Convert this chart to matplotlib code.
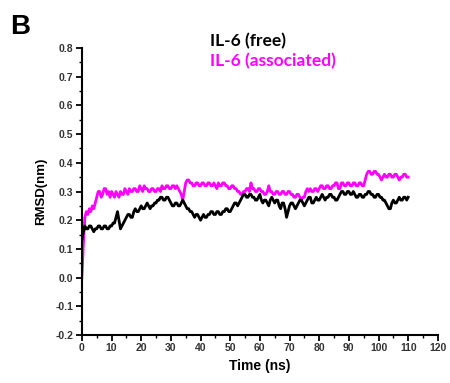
import numpy as np
import matplotlib
matplotlib.use("Agg")
import matplotlib.pyplot as plt
from matplotlib.ticker import MultipleLocator

# time axis (ns), one sample every 0.5 ns
time_ns = np.arange(0, 110.5, 0.5)

rmsd_associated = [
    0.00, 0.12, 0.21, 0.23, 0.22, 0.24, 0.23, 0.25, 0.24, 0.26,
    0.28, 0.30, 0.30, 0.28, 0.29, 0.31, 0.31, 0.29, 0.30, 0.28,
    0.30, 0.29, 0.28, 0.30, 0.29, 0.28, 0.30, 0.29, 0.29, 0.31,
    0.30, 0.29, 0.31, 0.30, 0.30, 0.31, 0.31, 0.30, 0.30, 0.32,
    0.31, 0.30, 0.32, 0.31, 0.31, 0.30, 0.30, 0.31, 0.31, 0.30,
    0.30, 0.31, 0.31, 0.30, 0.32, 0.31, 0.31, 0.32, 0.32, 0.31,
    0.31, 0.32, 0.32, 0.31, 0.32, 0.31, 0.30, 0.29, 0.27, 0.30,
    0.33, 0.34, 0.34, 0.33, 0.33, 0.32, 0.32, 0.33, 0.33, 0.32,
    0.32, 0.33, 0.33, 0.32, 0.32, 0.33, 0.33, 0.32, 0.32, 0.33,
    0.32, 0.31, 0.33, 0.32, 0.32, 0.33, 0.33, 0.32, 0.32, 0.31,
    0.31, 0.32, 0.32, 0.31, 0.31, 0.30, 0.30, 0.29, 0.29, 0.30,
    0.30, 0.31, 0.31, 0.30, 0.33, 0.31, 0.31, 0.30, 0.30, 0.31,
    0.31, 0.30, 0.30, 0.29, 0.29, 0.30, 0.32, 0.30, 0.30, 0.29,
    0.29, 0.30, 0.30, 0.29, 0.29, 0.30, 0.30, 0.29, 0.29, 0.30,
    0.30, 0.29, 0.29, 0.28, 0.28, 0.29, 0.29, 0.28, 0.27, 0.28,
    0.28, 0.30, 0.31, 0.30, 0.31, 0.30, 0.30, 0.31, 0.31, 0.30,
    0.31, 0.32, 0.32, 0.31, 0.31, 0.32, 0.32, 0.31, 0.31, 0.32,
    0.32, 0.33, 0.33, 0.31, 0.31, 0.33, 0.33, 0.32, 0.32, 0.33,
    0.33, 0.32, 0.32, 0.33, 0.33, 0.32, 0.32, 0.33, 0.33, 0.32,
    0.32, 0.34, 0.36, 0.37, 0.37, 0.36, 0.36, 0.37, 0.37, 0.36,
    0.36, 0.35, 0.34, 0.35, 0.36, 0.35, 0.35, 0.36, 0.36, 0.35,
    0.35, 0.36, 0.36, 0.35, 0.34, 0.35, 0.35, 0.36, 0.36, 0.35,
    0.35,
]

rmsd_free = [
    0.13, 0.16, 0.18, 0.17, 0.17, 0.18, 0.18, 0.17, 0.16, 0.17,
    0.17, 0.18, 0.18, 0.17, 0.17, 0.18, 0.18, 0.17, 0.17, 0.18,
    0.18, 0.19, 0.19, 0.21, 0.23, 0.20, 0.17, 0.18, 0.19, 0.20,
    0.21, 0.22, 0.22, 0.21, 0.21, 0.23, 0.24, 0.23, 0.23, 0.24,
    0.25, 0.24, 0.24, 0.25, 0.26, 0.25, 0.24, 0.25, 0.25, 0.26,
    0.26, 0.27, 0.27, 0.28, 0.28, 0.27, 0.27, 0.28, 0.28, 0.27,
    0.26, 0.25, 0.25, 0.26, 0.26, 0.25, 0.25, 0.26, 0.27, 0.26,
    0.25, 0.24, 0.24, 0.23, 0.23, 0.22, 0.21, 0.22, 0.22, 0.21,
    0.20, 0.21, 0.22, 0.21, 0.21, 0.22, 0.22, 0.23, 0.23, 0.22,
    0.22, 0.23, 0.23, 0.22, 0.22, 0.23, 0.23, 0.24, 0.24, 0.23,
    0.23, 0.24, 0.25, 0.26, 0.26, 0.25, 0.26, 0.27, 0.28, 0.29,
    0.29, 0.28, 0.28, 0.29, 0.29, 0.28, 0.28, 0.27, 0.27, 0.28,
    0.29, 0.27, 0.26, 0.27, 0.27, 0.26, 0.25, 0.27, 0.28, 0.27,
    0.26, 0.27, 0.27, 0.25, 0.24, 0.26, 0.26, 0.24, 0.21, 0.23,
    0.25, 0.26, 0.26, 0.25, 0.24, 0.25, 0.26, 0.27, 0.27, 0.26,
    0.25, 0.26, 0.27, 0.28, 0.28, 0.26, 0.26, 0.27, 0.28, 0.27,
    0.27, 0.28, 0.29, 0.28, 0.27, 0.28, 0.28, 0.29, 0.29, 0.28,
    0.28, 0.27, 0.27, 0.28, 0.29, 0.30, 0.30, 0.29, 0.29, 0.30,
    0.30, 0.29, 0.29, 0.30, 0.29, 0.28, 0.28, 0.29, 0.29, 0.28,
    0.28, 0.29, 0.29, 0.30, 0.30, 0.29, 0.29, 0.28, 0.28, 0.29,
    0.29, 0.28, 0.28, 0.27, 0.27, 0.26, 0.25, 0.24, 0.24, 0.26,
    0.27, 0.26, 0.26, 0.27, 0.28, 0.27, 0.27, 0.28, 0.28, 0.27,
    0.28,
]

series_labels = ["IL-6 (free)", "IL-6 (associated)"]
series_colors = ["#000000", "#FF00FF"]

fig = plt.figure(figsize=(4.5, 3.83), dpi=100)
ax = fig.add_axes([0.182, 0.125, 0.791, 0.75])

ax.plot(time_ns, rmsd_associated, color=series_colors[1], lw=2.0)
ax.plot(time_ns, rmsd_free, color=series_colors[0], lw=2.0)

ax.set_xlim(0, 120)
ax.set_ylim(-0.2, 0.8)
ax.xaxis.set_major_locator(MultipleLocator(10))
ax.xaxis.set_minor_locator(MultipleLocator(5))
ax.yaxis.set_major_locator(MultipleLocator(0.1))
ax.yaxis.set_minor_locator(MultipleLocator(0.05))
ax.yaxis.set_major_formatter(plt.FuncFormatter(lambda v, p: f"{v:.1f}"))

for side in ["top", "right"]:
    ax.spines[side].set_visible(False)
for side in ["left", "bottom"]:
    ax.spines[side].set_linewidth(1.5)

ax.tick_params(which="major", direction="out", length=4, width=1.3, pad=2)
ax.tick_params(which="minor", direction="out", length=2.5, width=1.0)
for lbl in ax.get_xticklabels() + ax.get_yticklabels():
    lbl.set_fontfamily("Liberation Sans")
    lbl.set_fontweight("bold")
    lbl.set_fontsize(7.5)
    lbl.set_color("#333333")

ax.set_xlabel("Time (ns)", fontfamily="Liberation Sans", fontweight="bold", fontsize=10, labelpad=4)
ax.set_ylabel("RMSD(nm)", fontfamily="Liberation Sans", fontweight="bold", fontsize=9.5, labelpad=6)

fig.text(0.467, 0.893, series_labels[0], color=series_colors[0], fontfamily="Lato",
         fontweight="bold", fontsize=12.5, va="center", ha="left")
fig.text(0.467, 0.840, series_labels[1], color=series_colors[1], fontfamily="Lato",
         fontweight="bold", fontsize=12.5, va="center", ha="left")
fig.text(0.022, 0.93, "B", fontfamily="Liberation Sans", fontweight="bold", fontsize=20,
         va="center", ha="left")

fig.savefig("out.png", dpi=100)
